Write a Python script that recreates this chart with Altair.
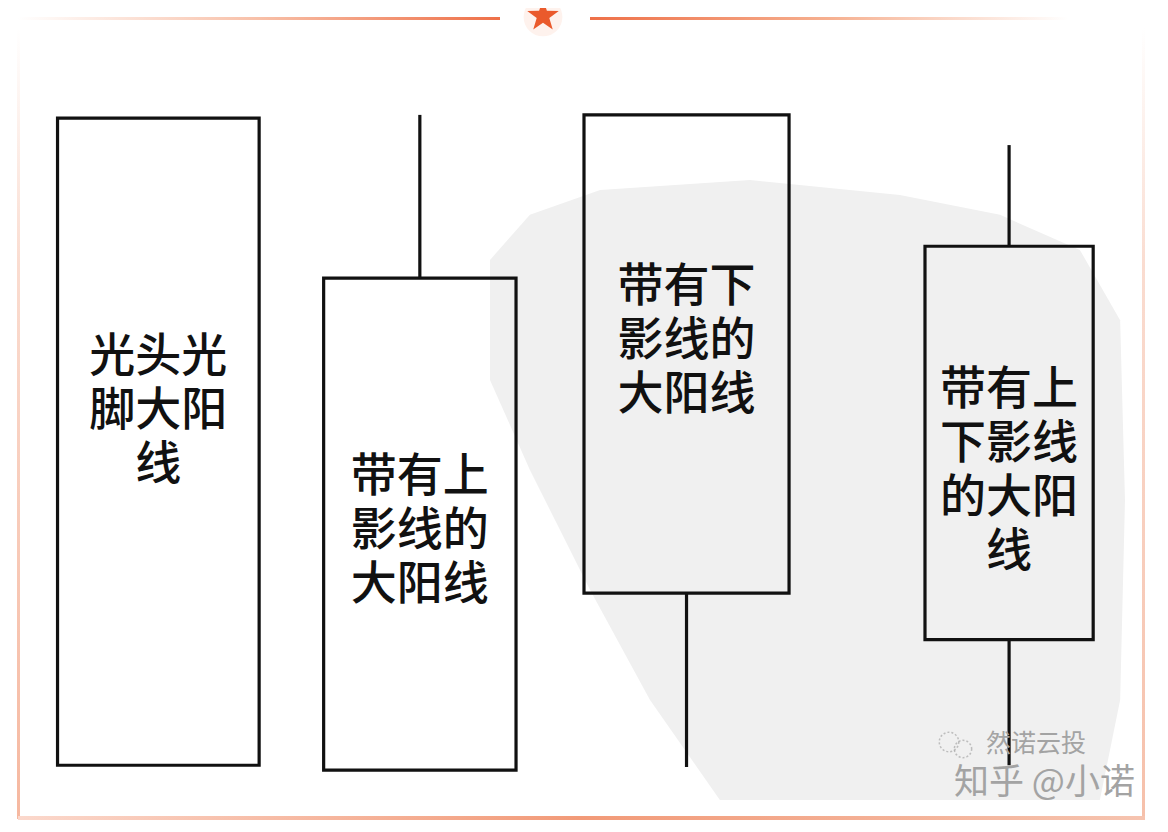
import altair as alt
import pandas as pd

# ---- candle data (price units 0-100, slot units 0-100) ----
labels = ["光头光\n脚大阳\n线", "带有上\n影线的\n大阳线", "带有下\n影线的\n大阳线", "带有上\n下影线\n的大阳\n线"]
open_ = [7.2, 6.6, 28.3, 22.6]
close = [86.5, 66.9, 86.9, 70.8]
high = [86.5, 86.9, 86.9, 83.2]
low = [7.2, 6.6, 7.0, 7.2]
slot_start = [4.3, 27.4, 50.0, 79.6]
slot_end = [21.8, 44.1, 67.8, 94.2]
label_level = [57.2, 42.5, 65.8, 53.2]

df = pd.DataFrame({
    "label": labels, "open": open_, "close": close, "high": high, "low": low,
    "x0": slot_start, "x1": slot_end, "ly": label_level,
})

W, H = 1152, 816
xs = alt.Scale(domain=[0, 100], nice=False, zero=False)
ys = alt.Scale(domain=[0, 100], nice=False, zero=False)

base = alt.Chart(df).transform_calculate(
    xm="(datum.x0 + datum.x1) / 2",
    top="max(datum.open, datum.close)",
    bot="min(datum.open, datum.close)",
)

boxes = base.mark_rect(fill="transparent", stroke="#111111", strokeWidth=3.2).encode(
    x=alt.X("x0:Q", scale=xs, axis=None),
    x2="x1:Q",
    y=alt.Y("bot:Q", scale=ys, axis=None),
    y2="top:Q",
)

upper = base.transform_filter("datum.high > max(datum.open, datum.close)").mark_rule(
    color="#111111", strokeWidth=3.2).encode(
    x=alt.X("xm:Q", scale=xs, axis=None),
    y=alt.Y("top:Q", scale=ys, axis=None),
    y2="high:Q",
)
lower = base.transform_filter("datum.low < min(datum.open, datum.close)").mark_rule(
    color="#111111", strokeWidth=3.2).encode(
    x=alt.X("xm:Q", scale=xs, axis=None),
    y=alt.Y("low:Q", scale=ys, axis=None),
    y2="bot:Q",
)

texts = base.mark_text(
    font="Noto Sans CJK SC", fontSize=46, fontWeight=500, lineHeight=54,
    lineBreak="\n", align="center", baseline="middle", color="#111111",
).encode(
    x=alt.X("xm:Q", scale=xs, axis=None),
    y=alt.Y("ly:Q", scale=ys, axis=None),
    text="label:N",
)

# ---- decorative frame ----
one = pd.DataFrame({"k": [0]})
def grad_rect(x1, x2, y1, y2, stops, horizontal=True):
    g = alt.LinearGradient(
        gradient="linear",
        stops=[alt.GradientStop(offset=o, color=c) for o, c in stops],
        x1=0, x2=1 if horizontal else 0, y1=0, y2=0 if horizontal else 1,
    )
    return alt.Chart(one).mark_rect(fill=g).encode(
        x=alt.value(x1), x2=alt.value(x2), y=alt.value(y1), y2=alt.value(y2))

frame = [
    grad_rect(10, 492, 9, 12, [(0, "#ffffff"), (0.5, "#f8c0a8"), (1, "#ee7048")]),
    grad_rect(582, 1060, 9, 12, [(0, "#ee7048"), (0.5, "#f6b090"), (1, "#ffffff")]),
    grad_rect(9, 12, 20, 811, [(0, "#ffffff"), (0.3, "#fadcd0"), (1, "#f6b8a0")], horizontal=False),
    grad_rect(1134, 1137, 20, 811, [(0, "#ffffff"), (0.3, "#fadcd0"), (1, "#f6c0aa")], horizontal=False),
    grad_rect(10, 1137, 808, 812, [(0, "#fbd8cc"), (0.5, "#f29a78"), (1, "#f6c4b0")]),
]

# faint background watermark blob
blob_path = ("M-0.969,-0.730 L-0.845,-0.870 L-0.627,-0.947 L-0.161,-0.978 L0.304,-0.932 "
             "L0.615,-0.870 L0.863,-0.761 L0.988,-0.543 L1.003,0.016 L0.988,0.637 L0.925,0.947 "
             "L-0.255,0.947 L-0.472,0.637 L-0.658,0.295 L-0.845,-0.078 L-0.969,-0.357 Z")
blob = alt.Chart(one).mark_point(shape=blob_path, filled=True, color="#f0f0f0", opacity=1,
                                 size=414736, strokeWidth=0).encode(
    x=alt.value(794), y=alt.value(487))

star_path = ("M0,-1 L0.235,-0.324 L0.951,-0.309 L0.380,0.124 L0.588,0.809 L0,0.4 "
             "L-0.588,0.809 L-0.380,0.124 L-0.951,-0.309 L-0.235,-0.324 Z")
glow = alt.Chart(one).mark_point(shape="circle", filled=True, color="#fbd9cb", opacity=0.35, size=1500).encode(
    x=alt.value(535), y=alt.value(9))
star = alt.Chart(one).mark_point(shape=star_path, filled=True, color="#ea5a2c", opacity=1, size=1100).encode(
    x=alt.value(535), y=alt.value(8))

# ---- watermark ----
wm1 = alt.Chart(one).mark_text(font="Noto Sans CJK SC", fontSize=25, color="#a3a3a3",
                               align="left", baseline="middle", text="然诺云投").encode(
    x=alt.value(978), y=alt.value(736))
wm2 = alt.Chart(one).mark_text(font="Noto Sans CJK SC", fontSize=35, color="#a3a3a3",
                               align="left", baseline="middle", text="知乎 @小诺").encode(
    x=alt.value(946), y=alt.value(775))
bub1 = alt.Chart(one).mark_point(shape="circle", filled=False, color="#a8a8a8", strokeWidth=1.5,
                                 strokeDash=[2, 2], size=380).encode(x=alt.value(941), y=alt.value(734))
bub2 = alt.Chart(one).mark_point(shape="circle", filled=False, color="#a8a8a8", strokeWidth=1.5,
                                 strokeDash=[2, 2], size=300).encode(x=alt.value(955), y=alt.value(741))

chart = alt.layer(
    *frame, blob, glow, star, boxes, upper, lower, texts, wm1, wm2, bub1, bub2
).properties(
    width=W, height=H, padding=0, autosize=alt.AutoSizeParams(type="none"), background="#ffffff"
).configure_view(stroke=None)

chart.save("out.html", embed_options={"renderer": "svg", "actions": False})
